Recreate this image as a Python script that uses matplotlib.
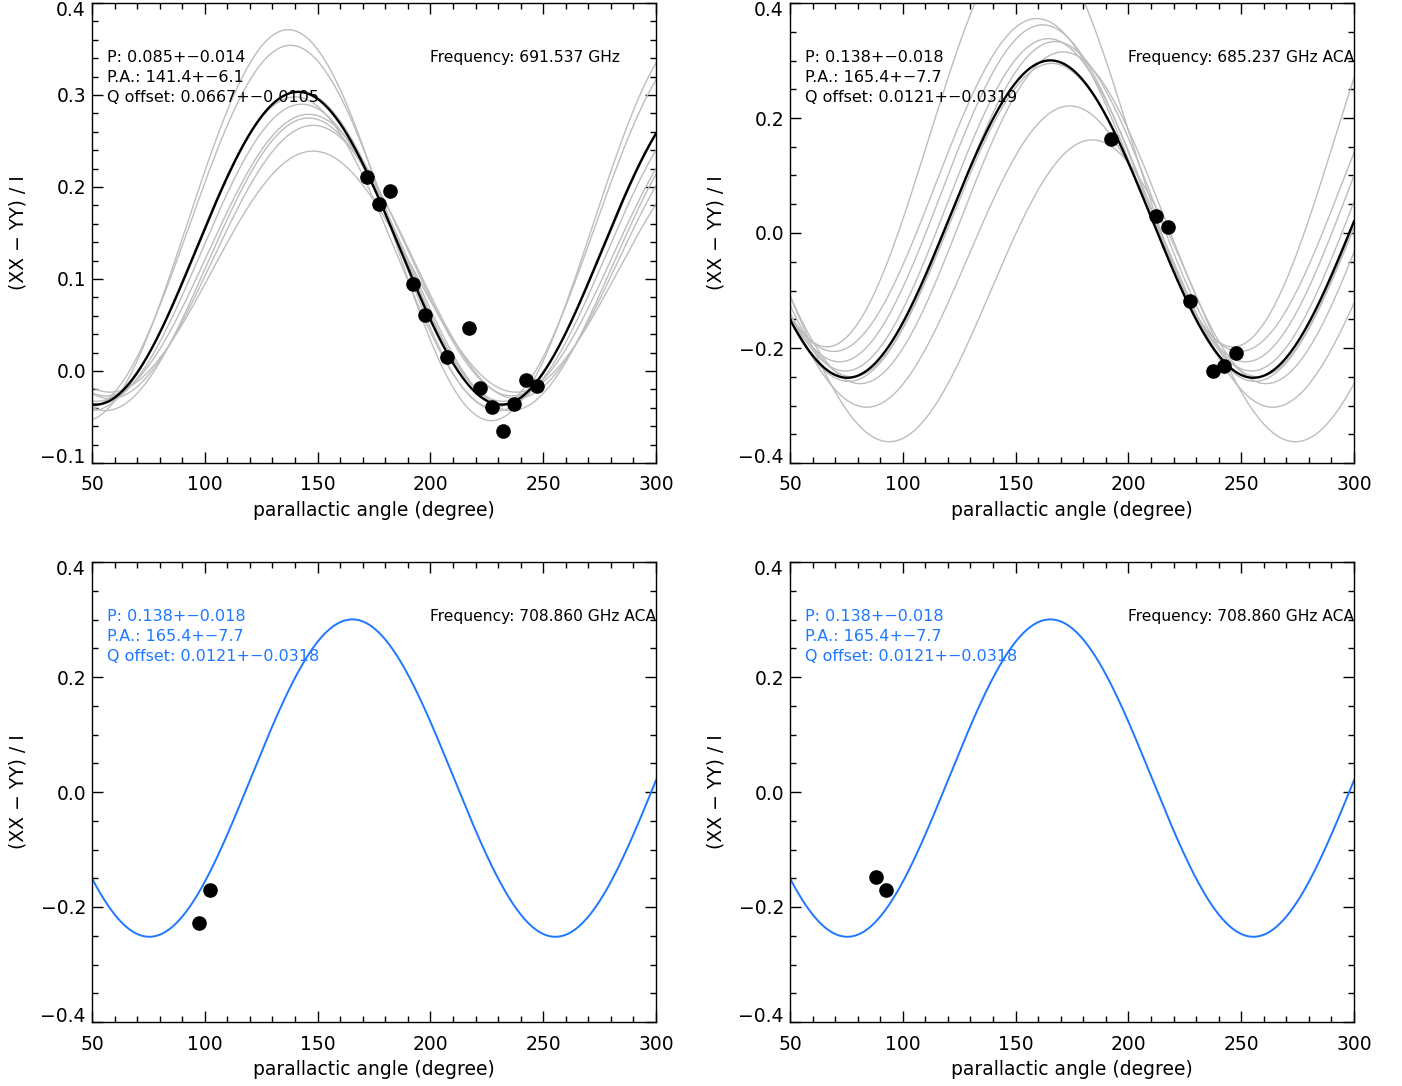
import numpy as np
import matplotlib
matplotlib.use("Agg")
import matplotlib.pyplot as plt
from matplotlib.ticker import MultipleLocator
from matplotlib.transforms import offset_copy

# fitted parameters printed in each panel: P, P.A., Q offset
fit_p = [0.085, 0.138, 0.138, 0.138]
fit_pa = [141.4, 165.4, 165.4, 165.4]
fit_q = [0.0667, 0.0121, 0.0121, 0.0121]
fit_labels = [
    ["P: 0.085+\u22120.014", "P.A.: 141.4+\u22126.1", "Q offset: 0.0667+\u22120.0105"],
    ["P: 0.138+\u22120.018", "P.A.: 165.4+\u22127.7", "Q offset: 0.0121+\u22120.0319"],
    ["P: 0.138+\u22120.018", "P.A.: 165.4+\u22127.7", "Q offset: 0.0121+\u22120.0318"],
    ["P: 0.138+\u22120.018", "P.A.: 165.4+\u22127.7", "Q offset: 0.0121+\u22120.0318"],
]
freq_labels = ["Frequency: 691.537 GHz", "Frequency: 685.237 GHz ACA",
               "Frequency: 708.860 GHz ACA", "Frequency: 708.860 GHz ACA"]

# gray trial curves (position of maximum, max value, min value)
gray1_pa = [137, 138, 142, 140, 143, 146, 146, 148, 148]
gray1_max = [0.371, 0.354, 0.304, 0.298, 0.290, 0.279, 0.275, 0.267, 0.239]
gray1_min = [-0.054, -0.040, -0.033, -0.043, -0.036, -0.027, -0.043, -0.030, -0.023]

gray2_pa = [156.3, 159.4, 162, 164.5, 166, 167.5, 171, 174, 184]
gray2_max = [0.522, 0.373, 0.362, 0.338, 0.295, 0.333, 0.315, 0.221, 0.162]
gray2_min = [-0.198, -0.206, -0.224, -0.240, -0.258, -0.250, -0.262, -0.303, -0.363]

# measured points
pts1_x = [172.1, 177.3, 182.3, 192.3, 197.4, 207.3, 217.3, 222.1, 227.3, 232.1, 237.1, 242.3, 247.4]
pts1_y = [0.211, 0.182, 0.196, 0.095, 0.061, 0.015, 0.047, -0.018, -0.039, -0.065, -0.036, -0.010, -0.016]
pts2_x = [192.2, 212.4, 217.5, 227.4, 237.4, 242.4, 247.6]
pts2_y = [0.163, 0.030, 0.010, -0.118, -0.240, -0.232, -0.208]
pts3_x = [97.4, 102.3]
pts3_y = [-0.228, -0.171]
pts4_x = [88.1, 92.4]
pts4_y = [-0.147, -0.170]

pts_x = [pts1_x, pts2_x, pts3_x, pts4_x]
pts_y = [pts1_y, pts2_y, pts3_y, pts4_y]
grays = [(gray1_pa, gray1_max, gray1_min), (gray2_pa, gray2_max, gray2_min), None, None]

ylims = [(-0.1, 0.4), (-0.4, 0.4), (-0.4, 0.4), (-0.4, 0.4)]
ymajor = [0.1, 0.2, 0.2, 0.2]
yminor = [0.02, 0.05, 0.05, 0.05]

blue = "#1e78ff"
plt.rcParams["font.family"] = "DejaVu Sans"

fig = plt.figure(figsize=(14.02, 10.86), dpi=100)
boxes = [
    [92 / 1402, 1 - 463 / 1086, 564 / 1402, 460 / 1086],
    [790 / 1402, 1 - 463 / 1086, 564 / 1402, 460 / 1086],
    [92 / 1402, 1 - 1022 / 1086, 564 / 1402, 460 / 1086],
    [790 / 1402, 1 - 1022 / 1086, 564 / 1402, 460 / 1086],
]

pa = np.linspace(50, 300, 600)

def wave(x, pa0, ymax, ymin):
    return (ymax + ymin) / 2 + (ymax - ymin) / 2 * np.cos(np.deg2rad(2 * (x - pa0)))

def fmt(v):
    return f"{v:.1f}".replace("-", "\u2212")

for i in range(4):
    ax = fig.add_axes(boxes[i])
    if grays[i] is not None:
        for g_pa, g_max, g_min in zip(*grays[i]):
            ax.plot(pa, wave(pa, g_pa, g_max, g_min), color="#bdbdbd", lw=1.0)
    main_max = 2 * (fit_q[i] + fit_p[i])
    main_min = 2 * (fit_q[i] - fit_p[i])
    if i < 2:
        ax.plot(pa, wave(pa, fit_pa[i], main_max, main_min), color="black", lw=1.7)
        txt_color = "black"
    else:
        ax.plot(pa, wave(pa, fit_pa[i], main_max, main_min), color=blue, lw=1.4)
        txt_color = blue
    ax.plot(pts_x[i], pts_y[i], "o", color="black", ms=9.5, clip_on=False)

    y0, y1 = ylims[i]
    ax.set_xlim(50, 300)
    ax.set_ylim(y0, y1)
    ax.xaxis.set_major_locator(MultipleLocator(50))
    ax.xaxis.set_minor_locator(MultipleLocator(10))
    ax.yaxis.set_major_locator(MultipleLocator(ymajor[i]))
    ax.yaxis.set_minor_locator(MultipleLocator(yminor[i]))
    ax.tick_params(which="both", direction="in", top=True, right=True, width=1.0, labelsize=13.5)
    ax.tick_params(which="major", length=8)
    ax.tick_params(which="minor", length=4.5)
    ax.tick_params(axis="x", pad=9)
    ax.tick_params(axis="y", pad=4)
    for s in ax.spines.values():
        s.set_linewidth(1.0)
    # end labels are drawn separately, pushed inside the frame like in the original
    ax.yaxis.set_major_formatter(plt.FuncFormatter(
        lambda v, p, lo=y0, hi=y1: "" if abs(v - lo) < 1e-9 or abs(v - hi) < 1e-9 else fmt(v)))
    ax.text(-0.011, y1, fmt(y1), transform=offset_copy(ax.get_yaxis_transform(), fig=fig, y=-5.5, units="points"),
            ha="right", va="center", fontsize=13.5)
    ax.text(-0.011, y0, fmt(y0), transform=offset_copy(ax.get_yaxis_transform(), fig=fig, y=4, units="points"),
            ha="right", va="center", fontsize=13.5)
    ax.set_xlabel("parallactic angle (degree)", fontsize=13.5, labelpad=5)
    ax.set_ylabel("(XX \u2212 YY) / I", fontsize=13.5)
    ax.yaxis.set_label_coords(-0.115, 0.5)

    for k, line in enumerate(fit_labels[i]):
        ax.text(0.027, 0.882 - k * 0.0435, line, transform=ax.transAxes, fontsize=11.5,
                color=txt_color, va="center", ha="left")
    ax.text(0.599, 0.882, freq_labels[i], transform=ax.transAxes, fontsize=11.2,
            color="black", va="center", ha="left")

fig.savefig("out.png", dpi=100)
